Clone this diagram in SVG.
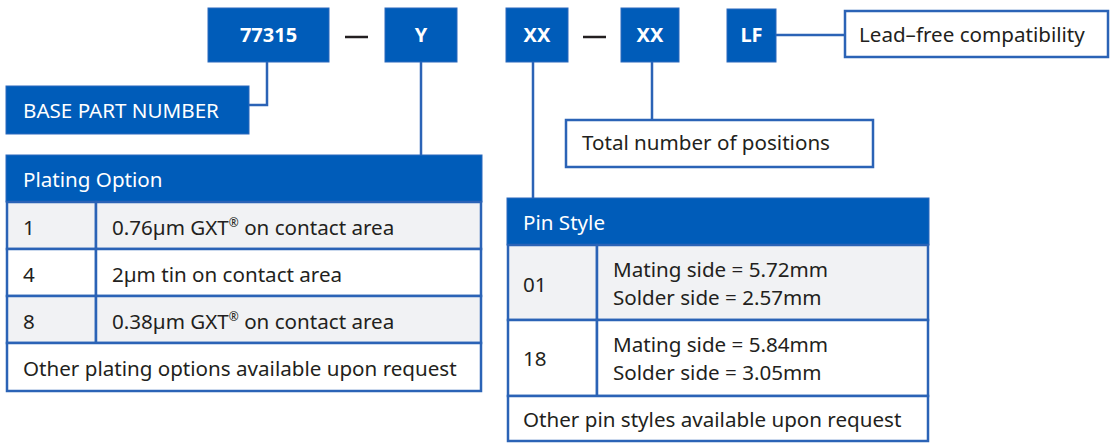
<svg xmlns="http://www.w3.org/2000/svg" width="1112" height="443" viewBox="0 0 1112 443">
<style>
.blk{fill:#005cb9;stroke:#2b68bd;stroke-width:1}
.code{font-family:"Noto Sans","Open Sans",sans-serif;font-weight:bold;font-size:20px;fill:#fff;text-anchor:middle}
.wt{font-family:"Noto Sans","Open Sans",sans-serif;font-size:20.6px;fill:#fff}
.tx{font-family:"Noto Sans","Open Sans",sans-serif;font-size:20.6px;fill:#231f20}
.box{fill:#fff;stroke:#2b63b6;stroke-width:2.5}
.cell{stroke:#2b63b6;stroke-width:2.5}
.g{fill:#f1f2f4}
.w{fill:#fff}
.conn{fill:none;stroke:#2b63b6;stroke-width:2.5}
.dash{stroke:#231f20;stroke-width:2.5}
</style>
<rect width="1112" height="443" fill="#fff"/>
<g id="connectors">
<path class="conn" d="M267,62 V105 H249"/>
<path class="conn" d="M421,62 V155"/>
<path class="conn" d="M533,62 V198"/>
<path class="conn" d="M652,62 V121"/>
<path class="conn" d="M776,35 H845"/>
</g>
<g id="dashes">
<line class="dash" x1="345" y1="37" x2="368" y2="37"/>
<line class="dash" x1="583" y1="37" x2="606" y2="37"/>
</g>
<g id="n77315"><rect class="blk" x="208" y="8" width="121" height="54"/><text class="code" x="268.5" y="42">77315</text></g>
<g id="nY"><rect class="blk" x="385" y="8" width="72" height="54"/><text class="code" x="421" y="42">Y</text></g>
<g id="nXX1"><rect class="blk" x="506" y="8" width="62" height="54"/><text class="code" x="537" y="42">XX</text></g>
<g id="nXX2"><rect class="blk" x="621" y="8" width="58" height="54"/><text class="code" x="650" y="42">XX</text></g>
<g id="nLF"><rect class="blk" x="727" y="9" width="49" height="53"/><text class="code" x="751.5" y="42">LF</text></g>
<g id="leadfree"><rect class="box" x="845" y="11" width="263" height="46"/><text class="tx" x="859" y="42">Lead–free compatibility</text></g>
<g id="base"><rect class="blk" x="6" y="86" width="243" height="48"/><text class="wt" x="23" y="118">BASE PART NUMBER</text></g>
<g id="total"><rect class="box" x="566" y="120" width="307" height="47"/><text class="tx" x="582" y="150">Total number of positions</text></g>
<g id="plating">
<rect class="blk" x="6" y="155" width="476" height="47"/>
<text class="wt" x="23" y="187">Plating Option</text>
<rect class="cell g" x="7" y="202" width="89" height="47"/><rect class="cell g" x="96" y="202" width="385" height="47"/>
<rect class="cell w" x="7" y="249" width="89" height="47"/><rect class="cell w" x="96" y="249" width="385" height="47"/>
<rect class="cell g" x="7" y="296" width="89" height="47"/><rect class="cell g" x="96" y="296" width="385" height="47"/>
<rect class="cell w" x="7" y="343" width="474" height="48"/>
<text class="tx" x="23" y="235">1</text><text class="tx" x="112" y="235">0.76µm GXT<tspan font-size="12" dy="-8">®</tspan><tspan dy="8"> on contact area</tspan></text>
<text class="tx" x="23" y="282">4</text><text class="tx" x="112" y="282">2µm tin on contact area</text>
<text class="tx" x="23" y="329">8</text><text class="tx" x="112" y="329">0.38µm GXT<tspan font-size="12" dy="-8">®</tspan><tspan dy="8"> on contact area</tspan></text>
<text class="tx" x="23" y="376">Other plating options available upon request</text>
</g>
<g id="pinstyle">
<rect class="blk" x="507" y="198" width="422" height="47"/>
<text class="wt" x="523" y="230">Pin Style</text>
<rect class="cell g" x="508" y="245" width="89" height="75"/><rect class="cell g" x="597" y="245" width="331" height="75"/>
<rect class="cell w" x="508" y="320" width="89" height="76"/><rect class="cell w" x="597" y="320" width="331" height="76"/>
<rect class="cell w" x="508" y="396" width="420" height="45"/>
<text class="tx" x="523" y="292">01</text>
<text class="tx" x="613" y="277">Mating side = 5.72mm</text><text class="tx" x="613" y="305">Solder side = 2.57mm</text>
<text class="tx" x="523" y="366">18</text>
<text class="tx" x="613" y="352">Mating side = 5.84mm</text><text class="tx" x="613" y="380">Solder side = 3.05mm</text>
<text class="tx" x="523" y="427">Other pin styles available upon request</text>
</g>
</svg>
